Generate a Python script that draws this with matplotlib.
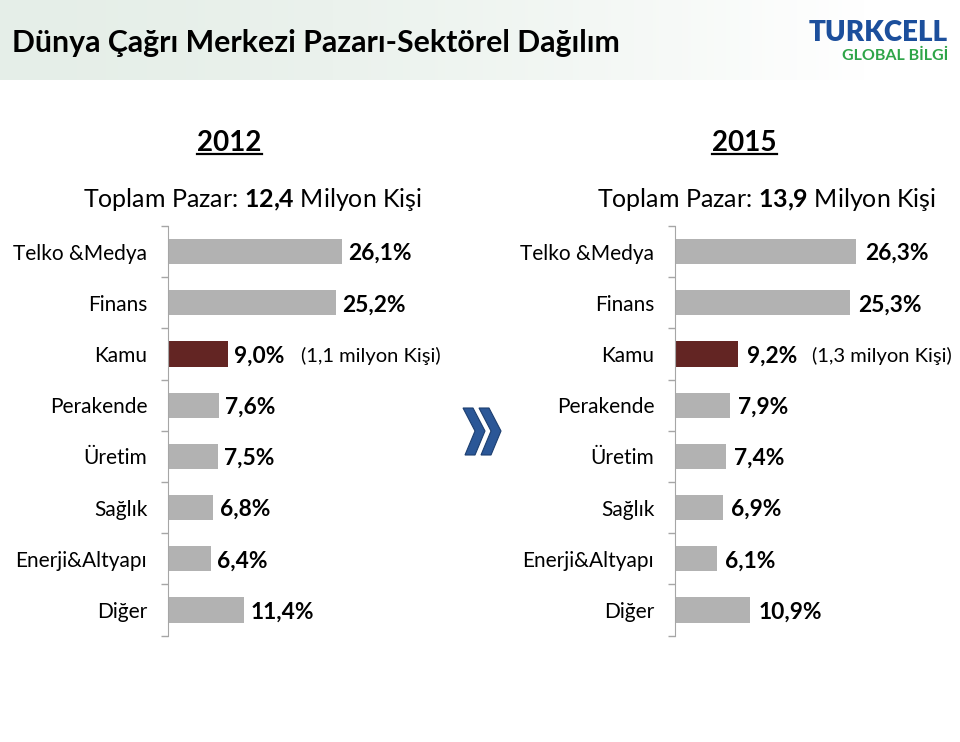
import numpy as np
import matplotlib
matplotlib.use("Agg")
import matplotlib.pyplot as plt
from matplotlib.patches import Polygon

plt.rcParams["font.family"] = ["Lato", "DejaVu Sans"]
plt.rcParams["mathtext.fontset"] = "custom"
plt.rcParams["mathtext.rm"] = "Lato"
plt.rcParams["mathtext.bf"] = "Lato:bold"

# --- data ---
categories = ["Telko &Medya", "Finans", "Kamu", "Perakende", "Üretim",
              "Sağlık", "Enerji&Altyapı", "Diğer"]
values_2012 = [26.1, 25.2, 9.0, 7.6, 7.5, 6.8, 6.4, 11.4]
values_2015 = [26.3, 25.3, 9.2, 7.9, 7.4, 6.9, 6.1, 10.9]
highlight = "Kamu"
note_2012 = "(1,1 milyon Kişi)"
note_2015 = "(1,3 milyon Kişi)"
total_2012 = "12{,}4"
total_2015 = "13{,}9"
title = "Dünya Çağrı Merkezi Pazarı-Sektörel Dağılım"

W, H = 960, 742
fig = plt.figure(figsize=(9.6, 7.42), dpi=100)

# background layer in pixel coords (banner, logo, arrow)
bg = fig.add_axes([0, 0, 1, 1], zorder=0)
t = np.linspace(0, 1, 300)
ramp = np.clip(t / 0.9, 0, 1) ** 1.6
left_c = np.array([0.90, 0.935, 0.91])
grad = left_c[None, :] + (1 - left_c[None, :]) * ramp[:, None]
bg.imshow(grad[None, :, :], extent=(0, W, 80, 0), aspect="auto")
bg.set_xlim(0, W)
bg.set_ylim(H, 0)
bg.axis("off")

# double chevron
for dx in (0, 16):
    pts = [(463 + dx, 408), (473 + dx, 408), (485 + dx, 431),
           (475 + dx, 455), (465 + dx, 455), (475 + dx, 431)]
    bg.add_patch(Polygon(pts, closed=True, facecolor="#2b5797",
                         edgecolor="#1d3f70", lw=0.8))

fig.text(12 / W, 1 - 43 / H, title, fontsize=21.8, fontweight="bold",
         va="center", ha="left")
fig.text(948 / W, 1 - 33 / H, "TURKCELL", fontsize=20, fontweight="heavy",
         color="#1c4f9c", ha="right", va="center")
fig.text(948 / W, 1 - 56 / H, "GLOBAL BİLGİ", fontsize=11.5, fontweight="bold",
         color="#2ea548", ha="right", va="center")


def fmt(v):
    return f"{v:.1f}".replace(".", ",") + "%"


def draw_panel(rect, values, note, gap, note_gap):
    ax = fig.add_axes(rect, zorder=1)
    ax.set_facecolor("none")
    y = np.arange(len(categories))
    colors = ["#632523" if c == highlight else "#b2b2b2" for c in categories]
    ax.barh(y, values, height=0.49, color=colors)
    ax.set_ylim(len(categories) - 0.5, -0.5)
    ax.set_xlim(0, 40)
    ax.set_yticks(y, categories, fontsize=15)
    ax.tick_params(axis="y", which="major", length=0, pad=15)
    ax.set_yticks(np.arange(len(categories) + 1) - 0.5, minor=True)
    ax.tick_params(axis="y", which="minor", length=5, color="#a6a6a6", width=1)
    ax.xaxis.set_visible(False)
    for s in ("top", "right", "bottom"):
        ax.spines[s].set_visible(False)
    ax.spines["left"].set_color("#a6a6a6")
    for i, (c, v) in enumerate(zip(categories, values)):
        lbl = ax.annotate(fmt(v), (v, i), xytext=(gap, 0), textcoords="offset points",
                          va="center_baseline", ha="left", fontsize=16.4,
                          fontweight="bold")
        if c == highlight:
            ax.annotate(note, xy=(1, 0.5), xycoords=lbl, xytext=(note_gap, 0),
                        textcoords="offset points", va="center", ha="left",
                        fontsize=14.5)
    return ax


draw_panel([168 / W, 1 - 635.6 / H, 266.8 / W, 409.6 / H], values_2012, note_2012, 4.5, 12)
draw_panel([675 / W, 1 - 635.6 / H, 276 / W, 409.6 / H], values_2015, note_2015, 6, 11)

# year headers with underline
fig.canvas.draw()
renderer = fig.canvas.get_renderer()
for year, cx in (("2012", 229.5), ("2015", 744.5)):
    yt = fig.text(cx / W, 1 - 151 / H, year, fontsize=20, fontweight="bold",
                  ha="center", va="baseline")
    bb = yt.get_window_extent(renderer)
    bg.plot([bb.x0, bb.x1], [154, 154], color="black", lw=1.6)

fig.text(252.5 / W, 1 - 207 / H, "Toplam Pazar: $\\mathbf{" + total_2012 + "}$ Milyon Kişi",
         fontsize=18, ha="center", va="baseline")
fig.text(766.5 / W, 1 - 207 / H, "Toplam Pazar: $\\mathbf{" + total_2015 + "}$ Milyon Kişi",
         fontsize=18, ha="center", va="baseline")

fig.savefig("out.png", dpi=100)
